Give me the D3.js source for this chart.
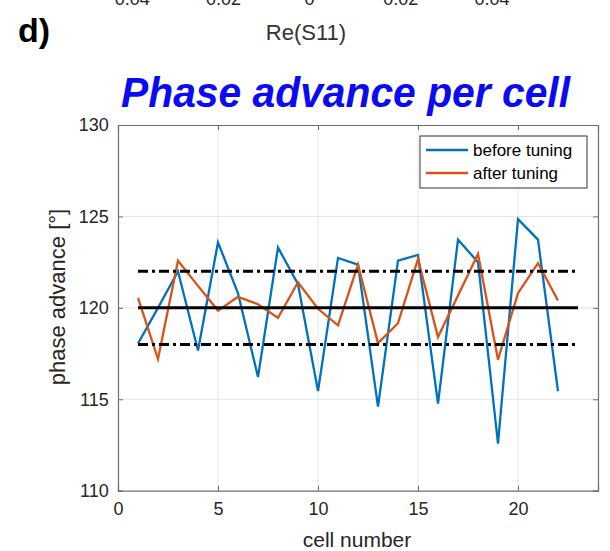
<!DOCTYPE html>
<html>
<head>
<meta charset="utf-8">
<script src="https://cdn.jsdelivr.net/npm/d3@7"></script>
<style>
  html, body { margin: 0; padding: 0; background: #fff; }
  svg { display: block; }
  text { font-family: "Liberation Sans", Arial, sans-serif; }
</style>
</head>
<body>
<svg id="chart" width="610" height="551"></svg>
<script>
// ---- data ----
const cells = d3.range(1, 23);
const beforeTuning = [118.05, 120.0, 122.0, 117.67, 123.58, 120.8, 116.22, 123.3, 121.3, 115.45, 122.73,
                      122.36, 114.6, 122.58, 122.89, 114.76, 123.73, 122.5, 112.58, 124.85, 123.73, 115.44];
const afterTuning  = [120.55, 117.2, 122.58, 121.2, 119.85, 120.6, 120.2, 119.45, 121.4, 119.95, 119.04,
                      122.36, 118.07, 119.16, 122.67, 118.4, 120.67, 122.95, 117.16, 120.8, 122.44, 120.4];
const nominal = 120;
const tolerance = [118, 122];
const refRange = [1, 23];
const xTicks = [0, 5, 10, 15, 20];
const yTicks = [110, 115, 120, 125, 130];
const topTickLabels = ["-0.04", "-0.02", "0", "0.02", "0.04"];
const seriesNames = ["before tuning", "after tuning"];
const seriesColors = ["#0072BD", "#D95319"];

// ---- layout ----
const svg = d3.select("#chart");
const L = 118, R = 598, T = 125, B = 490.7;
const x = d3.scaleLinear().domain([0, 24]).range([L, R]);
const y = d3.scaleLinear().domain([110, 130]).range([B, T]);
const axisColor = "#6e6e6e";
const textColor = "#262626";

// cut-off tick labels of the panel above
const topX = d3.scalePoint().domain(topTickLabels).range([127, 492]);
svg.append("g").selectAll("text").data(topTickLabels).join("text")
  .attr("x", d => topX(d)).attr("y", 5)
  .attr("text-anchor", "middle").attr("font-size", 18).attr("fill", textColor)
  .text(d => d.replace("-", "\u2212"));

svg.append("text").attr("x", 18).attr("y", 42)
  .attr("font-size", 34).attr("font-weight", "bold").attr("fill", "#000").text("d)");
svg.append("text").attr("x", 306).attr("y", 40).attr("text-anchor", "middle")
  .attr("font-size", 22).attr("fill", "#333").text("Re(S11)");

// title
svg.append("text").attr("x", 121).attr("y", 107)
  .attr("font-family", "'Open Sans', sans-serif")
  .attr("font-size", 42).attr("font-weight", "bold").attr("font-style", "italic")
  .attr("fill", "#0a0af5")
  .attr("textLength", 449).attr("lengthAdjust", "spacingAndGlyphs")
  .text("Phase advance per cell");

// plot background
svg.append("rect").attr("x", L).attr("y", T).attr("width", R - L).attr("height", B - T).attr("fill", "#fff");

// grid
const grid = svg.append("g").attr("stroke", "#e6e6e6").attr("stroke-width", 1);
grid.selectAll("line.gx").data(xTicks.filter(d => d > 0)).join("line")
  .attr("x1", d => x(d)).attr("x2", d => x(d)).attr("y1", T).attr("y2", B);
grid.selectAll("line.gy").data(yTicks.filter(d => d > 110 && d < 130)).join("line")
  .attr("x1", L).attr("x2", R).attr("y1", d => y(d)).attr("y2", d => y(d));

// data lines
const line = d3.line().x((d, i) => x(cells[i])).y(d => y(d));
[beforeTuning, afterTuning].forEach((s, k) => {
  svg.append("path").datum(s).attr("d", line).attr("fill", "none")
    .attr("stroke", seriesColors[k]).attr("stroke-width", 2.3).attr("stroke-linejoin", "miter");
});

// reference lines
svg.append("line").attr("x1", x(refRange[0])).attr("x2", x(refRange[1]))
  .attr("y1", y(nominal)).attr("y2", y(nominal)).attr("stroke", "#000").attr("stroke-width", 3);
tolerance.forEach(v => {
  svg.append("line").attr("x1", x(refRange[0])).attr("x2", x(refRange[1]))
    .attr("y1", y(v)).attr("y2", y(v)).attr("stroke", "#000").attr("stroke-width", 3)
    .attr("stroke-dasharray", "10,4,3,4");
});

// axes
const axB = svg.append("g").attr("transform", `translate(0,${B})`)
  .call(d3.axisBottom(x).tickValues(xTicks).tickSize(-5).tickPadding(12));
const axT = svg.append("g").attr("transform", `translate(0,${T})`)
  .call(d3.axisTop(x).tickValues(xTicks).tickSize(-5).tickFormat(""));
const axL = svg.append("g").attr("transform", `translate(${L},0)`)
  .call(d3.axisLeft(y).tickValues(yTicks).tickSize(-5).tickPadding(11));
const axR = svg.append("g").attr("transform", `translate(${R},0)`)
  .call(d3.axisRight(y).tickValues(yTicks).tickSize(-5).tickFormat(""));
[axB, axT, axL, axR].forEach(g => {
  g.select(".domain").attr("stroke", axisColor).attr("stroke-width", 1.2);
  g.selectAll(".tick line").attr("stroke", axisColor).attr("stroke-width", 1);
  g.selectAll("text").attr("font-size", 18).attr("fill", textColor)
    .attr("font-family", "'Liberation Sans', Arial, sans-serif");
});
axL.selectAll("text").attr("dx", "0.1em");

// axis labels
svg.append("text").attr("x", 357).attr("y", 547).attr("text-anchor", "middle")
  .attr("font-size", 21).attr("fill", textColor).text("cell number");
svg.append("text").attr("transform", "translate(65,297) rotate(-90)")
  .attr("text-anchor", "middle").attr("font-size", 22).attr("fill", textColor).text("phase advance [°]");

// legend
const lg = svg.append("g");
lg.append("rect").attr("x", 420).attr("y", 136).attr("width", 167).attr("height", 52)
  .attr("fill", "#fff").attr("stroke", "#333").attr("stroke-width", 1);
seriesNames.forEach((n, k) => {
  const yy = 150 + k * 23;
  lg.append("line").attr("x1", 426).attr("x2", 468).attr("y1", yy).attr("y2", yy)
    .attr("stroke", seriesColors[k]).attr("stroke-width", 2.3);
  lg.append("text").attr("x", 473).attr("y", yy + 6).attr("font-size", 17)
    .attr("fill", "#000").text(n);
});
</script>
</body>
</html>
